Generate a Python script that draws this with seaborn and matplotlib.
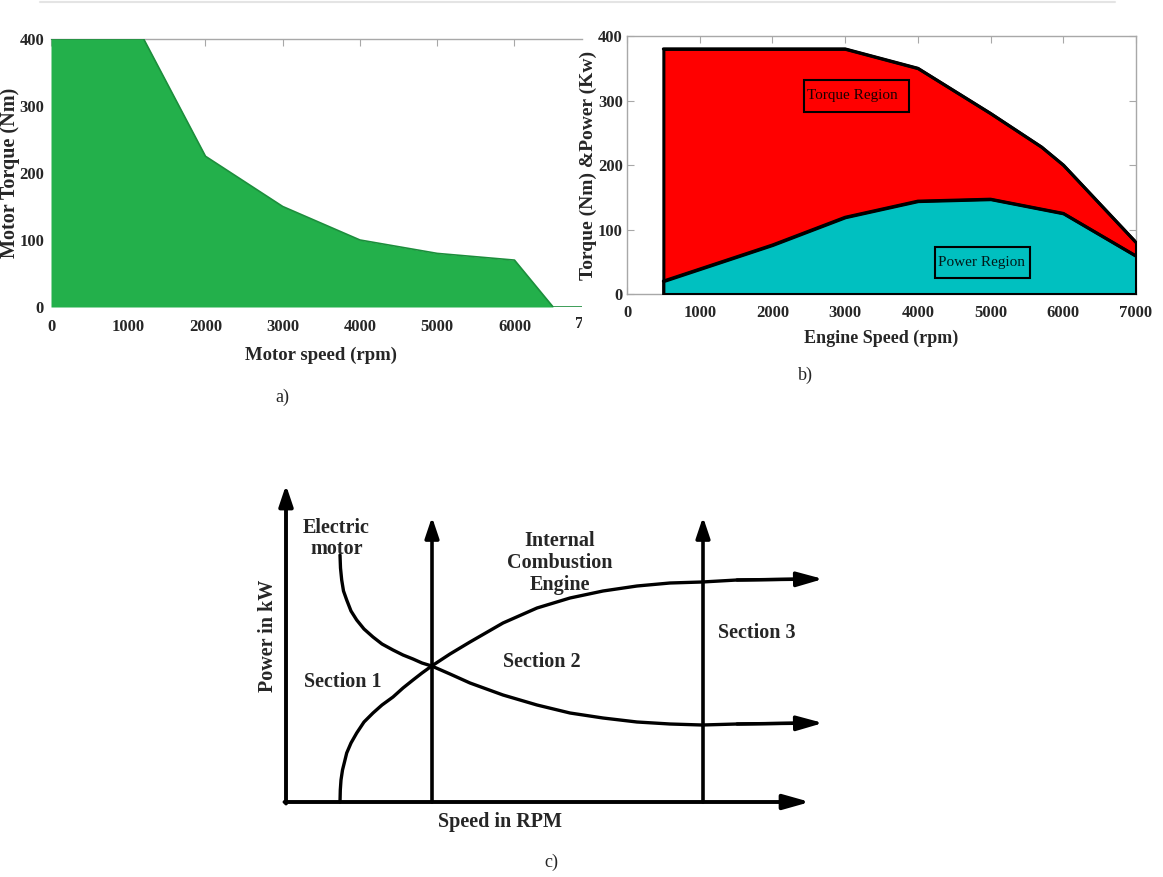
import matplotlib; matplotlib.use("Agg")
import matplotlib.pyplot as plt
import seaborn as sns
from matplotlib.lines import Line2D
from matplotlib.patches import Rectangle
from matplotlib.transforms import Bbox, TransformedBbox, blended_transform_factory

# ---------------- data ----------------
# a) electric motor torque envelope
MOTOR_RPM = [0, 1200, 2000, 3000, 4000, 5000, 6000, 6500, 7000]
MOTOR_TORQUE = [400, 400, 225, 150, 100, 80, 70, 0, 0]

# b) engine torque / power regions
TQ_RPM = [500, 3000, 4000, 5000, 5700, 6000, 7000]
TQ_NM = [380, 380, 350, 280, 228, 200, 80]
PW_RPM = [500, 2000, 3000, 4000, 5000, 6000, 7000]
PW_KW = [20, 76, 119, 144, 147, 125, 59]
RPM_TICKS = [0, 1000, 2000, 3000, 4000, 5000, 6000, 7000]
NM_TICKS = [0, 100, 200, 300, 400]

# c) schematic (arbitrary speed / power units)
EM_SPEED = [5.4, 5.45, 5.57, 5.75, 6.07, 6.5, 7.07, 7.8, 8.7, 9.6, 10.7, 11.7, 12.7,
            13.6, 14.57, 16.4, 18.4, 21.7, 25.1, 28.4, 31.7, 35.1, 38.4, 41.6, 45.1, 51.7]
EM_POWER = [24.7, 23.4, 22.2, 21.1, 20.2, 19.1, 18.2, 17.3, 16.5, 15.8, 15.2, 14.7, 14.3,
            13.9, 13.6, 12.8, 11.9, 10.7, 9.7, 8.9, 8.4, 8.0, 7.8, 7.7, 7.8, 7.9]
ICE_SPEED = [5.4, 5.43, 5.5, 5.65, 5.85, 6.07, 6.5, 7.07, 7.8, 8.7, 9.6, 10.7, 11.7, 12.7,
             13.6, 14.57, 16.4, 18.4, 21.7, 25.1, 28.4, 31.7, 35.1, 38.4, 41.6, 45.1, 51.7]
ICE_POWER = [0.0, 1.2, 2.2, 3.2, 4.0, 4.9, 5.9, 6.9, 8.0, 8.9, 9.7, 10.5, 11.4, 12.2,
             12.9, 13.6, 14.8, 16.0, 17.9, 19.4, 20.4, 21.1, 21.6, 21.9, 22.0, 22.2, 22.3]
CURVE_TIP = 53.7
SECTION_SPEEDS = [14.6, 41.7]
SECTION_TOP = 28.5
AXIS_TIP_X, AXIS_TIP_Y = 52.4, 31.7

GREEN, DKGREEN = '#23b04b', '#1c8e3c'
RED, CYAN = '#ff0000', '#00c0c0'
GRAY = '#a8a8a8'
TICK_FS = 12

sns.set_style("ticks")
plt.rcParams['font.family'] = ['Liberation Serif', 'DejaVu Serif']

W, H = 1163, 877
fig = plt.figure(figsize=(W / 100, H / 100), dpi=100)


def px_axes(x0, y0, x1, y1):
    return fig.add_axes([x0 / W, 1 - y1 / H, (x1 - x0) / W, (y1 - y0) / H])


fig.add_artist(Line2D([40 / W, 1115 / W], [1 - 2 / H, 1 - 2 / H], color='#e4e4e4', lw=1.5))

# ---------------- a) ----------------
# the source figure is cropped just before 7000 rpm
ax = px_axes(51, 39, 582, 307)
ax.fill_between(MOTOR_RPM, MOTOR_TORQUE, 0, color=GREEN, lw=0, zorder=3)
sns.lineplot(x=MOTOR_RPM, y=MOTOR_TORQUE, ax=ax, color=DKGREEN, lw=1.2,
             estimator=None, sort=False, zorder=4)
ax.set_xlim(0, 6874); ax.set_ylim(0, 400)
ax.set_xticks(RPM_TICKS[:-1]); ax.set_yticks(NM_TICKS)
for s in ['left', 'bottom', 'right']:
    ax.spines[s].set_visible(False)
ax.spines['top'].set_color(GRAY); ax.spines['top'].set_linewidth(1.0)
ax.tick_params(axis='x', bottom=False, top=True, direction='in', length=5, color=GRAY,
               pad=9, labelsize=TICK_FS)
ax.tick_params(axis='y', left=False, pad=1.5, labelsize=TICK_FS)
for lab in ax.get_xticklabels() + ax.get_yticklabels():
    lab.set_fontweight('bold')
clip = TransformedBbox(Bbox.from_extents(0, 0, 582 / W, 1), fig.transFigure)
cut = ax.text(RPM_TICKS[-1], -0.035, str(RPM_TICKS[-1]),
              transform=blended_transform_factory(ax.transData, ax.transAxes),
              ha='center', va='top', fontsize=TICK_FS, fontweight='bold', clip_on=True)
cut.set_clip_box(clip)
ax.set_xlabel('Motor speed (rpm)', fontsize=13.5, fontweight='bold')
ax.set_ylabel('Motor Torque (Nm)', fontsize=14.5, fontweight='bold')
ax.xaxis.set_label_coords(0.509, -0.148)
ax.yaxis.set_label_coords(-0.059, 0.5)

# ---------------- b) ----------------
bx = px_axes(627, 36, 1136, 294)
bx.fill_between(TQ_RPM, TQ_NM, 0, facecolor=RED, edgecolor='black', lw=2.2, zorder=3)
bx.fill_between(PW_RPM, PW_KW, 0, facecolor=CYAN, edgecolor='black', lw=2.2, zorder=4)
sns.lineplot(x=TQ_RPM, y=TQ_NM, ax=bx, color='black', lw=2.2, estimator=None, zorder=5)
sns.lineplot(x=PW_RPM, y=PW_KW, ax=bx, color='black', lw=2.2, estimator=None, zorder=5)
bx.set_xlim(0, 7000); bx.set_ylim(0, 400)
bx.set_xticks(RPM_TICKS); bx.set_yticks(NM_TICKS)
for s in bx.spines.values():
    s.set_color(GRAY); s.set_linewidth(1.0)
bx.tick_params(direction='in', length=5, color=GRAY, top=True, right=True, labelsize=TICK_FS)
bx.tick_params(axis='x', pad=8)
bx.tick_params(axis='y', pad=3)
for lab in bx.get_xticklabels() + bx.get_yticklabels():
    lab.set_fontweight('bold')
bx.set_xlabel('Engine Speed (rpm)', fontsize=13, fontweight='bold')
bx.set_ylabel('Torque (Nm) &Power (Kw)', fontsize=14, fontweight='bold')
bx.xaxis.set_label_coords(0.499, -0.14)
bx.yaxis.set_label_coords(-0.058, 0.5)
bx.add_patch(Rectangle((2434, 282), 3878 - 2434, 332 - 282, fill=False, ec='black', lw=1.5, zorder=6))
bx.text(2475, 307, 'Torque Region', fontsize=11, color='#1a0000', va='center', zorder=7)
bx.add_patch(Rectangle((4236, 25), 5542 - 4236, 73 - 25, fill=False, ec='black', lw=1.5, zorder=6))
bx.text(4277, 49, 'Power Region', fontsize=11, color='#001a1a', va='center', zorder=7)

# ---------------- c) ----------------
cx = px_axes(270, 470, 840, 810)
cx.set_xlim(-1.6, 55.4); cx.set_ylim(-0.8, 33.2)
cx.axis('off')
h_arrow = dict(arrowstyle='-|>,head_length=1.6,head_width=0.45', mutation_scale=10,
               color='black', shrinkA=0, shrinkB=0)
v_arrow = dict(arrowstyle='-|>,head_length=1.25,head_width=0.42', mutation_scale=10,
               color='black', shrinkA=0, shrinkB=0)
cx.annotate('', xy=(AXIS_TIP_X, 0), xytext=(-0.15, 0), arrowprops=dict(h_arrow, lw=2.8))
cx.annotate('', xy=(0, AXIS_TIP_Y), xytext=(0, -0.15), arrowprops=dict(v_arrow, lw=2.8))
for sx in SECTION_SPEEDS:
    cx.annotate('', xy=(sx, SECTION_TOP), xytext=(sx, 0), arrowprops=dict(v_arrow, lw=2.6))
sns.lineplot(x=EM_SPEED, y=EM_POWER, ax=cx, color='black', lw=2.4, estimator=None)
sns.lineplot(x=ICE_SPEED, y=ICE_POWER, ax=cx, color='black', lw=2.4, estimator=None)
cx.annotate('', xy=(CURVE_TIP, EM_POWER[-1]), xytext=(EM_SPEED[-2], EM_POWER[-2]),
            arrowprops=dict(h_arrow, lw=2.4))
cx.annotate('', xy=(CURVE_TIP, ICE_POWER[-1]), xytext=(ICE_SPEED[-2], ICE_POWER[-2]),
            arrowprops=dict(h_arrow, lw=2.4))
tk = dict(fontsize=14.5, fontweight='bold', ha='center', va='center')
cx.text(5.05, 26.35, 'Electric\nmotor', linespacing=1.1, **tk)
cx.text(27.4, 23.9, 'Internal\nCombustion\nEngine', linespacing=1.15, **tk)
cx.text(5.7, 12.0, 'Section 1', **tk)
cx.text(25.6, 14.0, 'Section 2', **tk)
cx.text(47.1, 16.9, 'Section 3', **tk)
cx.text(-1.8, 16.6, 'Power in kW', rotation=90, **tk)
cx.text(21.4, -2.0, 'Speed in RPM', **tk)

# captions
for x, y, t in [(282, 397, 'a)'), (805, 375, 'b)'), (551, 862, 'c)')]:
    fig.text(x / W, 1 - y / H, t, fontsize=13, ha='center', va='center')

fig.savefig('out.png', dpi=100)
